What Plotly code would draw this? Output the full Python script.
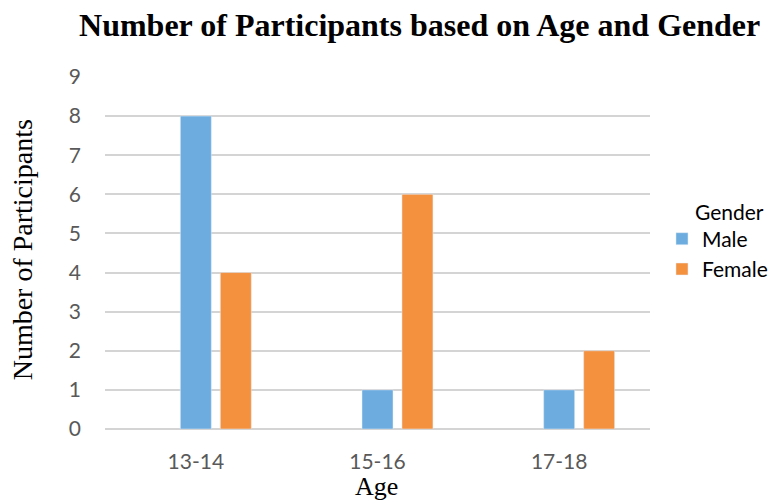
import plotly.graph_objects as go

categories = ["13-14", "15-16", "17-18"]
male = [8, 1, 1]
female = [4, 6, 2]
blank = [None, None, None]

fig = go.Figure()
fig.add_trace(go.Bar(x=categories, y=blank, name="", showlegend=False, hoverinfo="skip"))
fig.add_trace(go.Bar(x=categories, y=male, name="Male", marker_color="#6CACDF"))
fig.add_trace(go.Bar(x=categories, y=female, name="Female", marker_color="#F4913F"))

serif = "Liberation Serif, Times New Roman, serif"
sans = "Lato, Open Sans, sans-serif"

fig.update_layout(
    width=770, height=502,
    margin=dict(l=105, r=120, t=77, b=73, autoexpand=False),
    paper_bgcolor="white", plot_bgcolor="white",
    barmode="group", bargap=0.34, bargroupgap=0.225,
    title=dict(text="<b>Number of Participants based on Age and Gender</b>",
               x=0.545, xanchor="center", y=0.951, yanchor="middle",
               font=dict(family=serif, size=32, color="black")),
    legend=dict(x=1.022, y=0.497, xanchor="left", yanchor="middle",
                font=dict(family=sans, size=21, color="black"),
                itemwidth=30, tracegroupgap=0),
    showlegend=True,
    annotations=[
        dict(text="Gender", x=1.079, y=0.6165, xref="paper", yref="paper",
             xanchor="left", yanchor="middle", showarrow=False,
             font=dict(family=sans, size=21, color="black")),
        dict(text="Number of Participants", x=-0.152, y=0.508, xref="paper", yref="paper",
             xanchor="center", yanchor="middle", textangle=-90, showarrow=False,
             font=dict(family=serif, size=28, color="black")),
        dict(text="Age", x=0.499, y=-0.162, xref="paper", yref="paper",
             xanchor="center", yanchor="middle", showarrow=False,
             font=dict(family=serif, size=26, color="black")),
    ],
)
fig.update_yaxes(range=[0, 9], dtick=1, showgrid=True, gridcolor="#D4D4D4", gridwidth=2,
                 zeroline=True, zerolinecolor="#D4D4D4", zerolinewidth=2,
                 showline=False, ticks="", ticklabelstandoff=23,
                 tickfont=dict(family=sans, size=21, color="#595959"))
fig.update_xaxes(showgrid=False, showline=False, ticks="", ticklabelstandoff=18,
                 tickfont=dict(family=sans, size=21, color="#595959"))

fig.write_html("out.html", config={"displayModeBar": False},
               post_script="document.body.style.margin='0';document.body.style.overflow='hidden';")
